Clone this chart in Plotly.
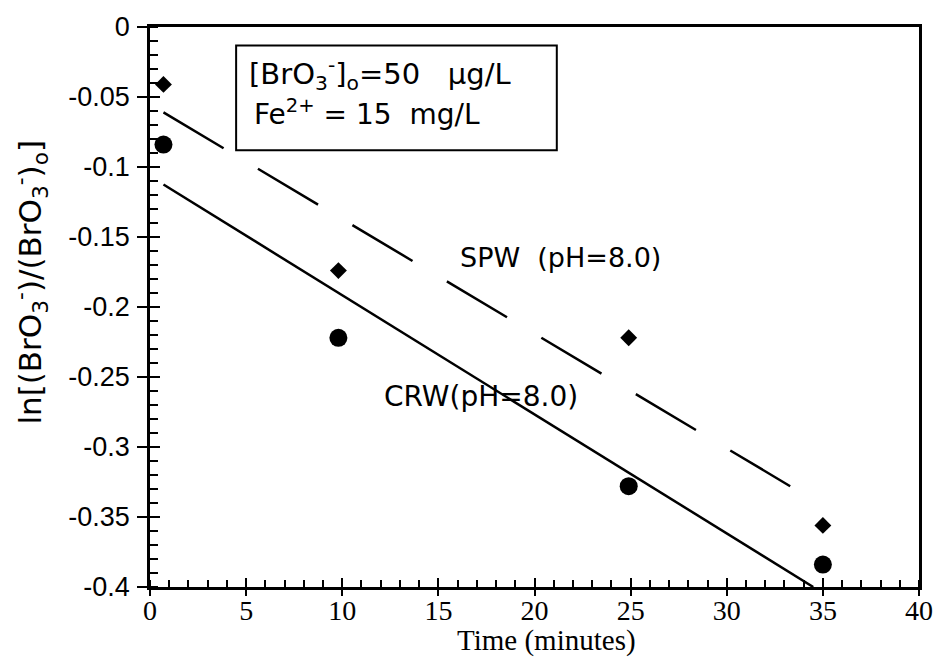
import plotly.graph_objects as go

# Data
time_pts = [0.7, 9.8, 24.9, 35.0]
spw_vals = [-0.041, -0.174, -0.222, -0.356]
crw_vals = [-0.084, -0.222, -0.328, -0.384]

spw_fit_x = [0.7, 33.3]
spw_fit_y = [-0.061, -0.328]
crw_fit_x = [0.7, 34.5]
crw_fit_y = [-0.1125, -0.400]

x_ticks = [0, 5, 10, 15, 20, 25, 30, 35, 40]
y_ticks = [0, -0.05, -0.1, -0.15, -0.2, -0.25, -0.3, -0.35, -0.4]
y_tick_text = ["0", "-0.05", "-0.1", "-0.15", "-0.2", "-0.25", "-0.3", "-0.35", "-0.4"]

fig = go.Figure()
fig.add_trace(go.Scatter(x=spw_fit_x, y=spw_fit_y, mode="lines",
                         line=dict(color="black", width=2.5, dash="70px,40px"), showlegend=False))
fig.add_trace(go.Scatter(x=crw_fit_x, y=crw_fit_y, mode="lines",
                         line=dict(color="black", width=2.5), showlegend=False))
fig.add_trace(go.Scatter(x=time_pts, y=spw_vals, mode="markers",
                         marker=dict(symbol="diamond", size=13, color="black"), showlegend=False))
fig.add_trace(go.Scatter(x=time_pts, y=crw_vals, mode="markers",
                         marker=dict(symbol="circle", size=18, color="black"), showlegend=False))
# invisible trace for the overlay axes (inner part of major ticks)
fig.add_trace(go.Scatter(x=[None], y=[None], xaxis="x2", yaxis="y2", showlegend=False,
                         hoverinfo="skip"))

lab = "DejaVu Sans"
fig.add_annotation(x=0.534, y=0.589, xref="paper", yref="paper", showarrow=False,
                   text="SPW  (pH=8.0)", font=dict(family=lab, size=27, color="black"))
fig.add_annotation(x=0.431, y=0.3076, xref="paper", yref="paper", showarrow=False,
                   text="CRW(pH=8.0)", font=dict(family=lab, size=28, color="black"))

# Legend-like box
fig.add_shape(type="rect", xref="paper", yref="paper", x0=0.112, x1=0.529, y0=0.780, y1=0.967,
              line=dict(color="black", width=2), fillcolor="white", layer="above")
fig.add_annotation(x=0.126, y=0.916, xref="paper", yref="paper", showarrow=False,
                   xanchor="left", yanchor="middle",
                   text="[BrO<sub>3</sub><sup>-</sup>]<sub>o</sub>=50   µg/L",
                   font=dict(family=lab, size=29, color="black"))
fig.add_annotation(x=0.132, y=0.847, xref="paper", yref="paper", showarrow=False,
                   xanchor="left", yanchor="middle",
                   text="Fe<sup>2+</sup> = 15  mg/L",
                   font=dict(family=lab, size=28, color="black"))

# Axis titles as annotations
fig.add_annotation(x=0.516, y=-0.095, xref="paper", yref="paper", showarrow=False,
                   text="Time (minutes)", yanchor="middle",
                   font=dict(family="Liberation Serif", size=29, color="black"))
fig.add_annotation(x=-0.155, y=0.545, xref="paper", yref="paper", showarrow=False,
                   text="ln[(BrO<sub>3</sub><sup>-</sup>)/(BrO<sub>3</sub><sup>-</sup>)<sub>o</sub>]",
                   textangle=-90, xanchor="center", yanchor="middle",
                   font=dict(family="DejaVu Sans", size=31, color="black"))

fig.update_layout(
    xaxis=dict(range=[0, 40], tickvals=x_ticks, ticks="outside", ticklen=6, tickwidth=2,
               tickcolor="black", showline=True, linecolor="black", linewidth=2.5, mirror=True,
               showgrid=False, zeroline=False,
               minor=dict(dtick=1, ticks="inside", ticklen=7, tickcolor="black", tickwidth=1.5),
               tickfont=dict(family="Liberation Serif", size=28, color="black"),
               ticklabelstandoff=-9),
    yaxis=dict(range=[-0.4, 0], tickvals=y_ticks, ticktext=y_tick_text, ticks="outside",
               ticklen=10, tickwidth=2, tickcolor="black", showline=True, linecolor="black",
               linewidth=2.5, mirror=True, showgrid=False, zeroline=False,
               minor=dict(dtick=0.01, ticks="inside", ticklen=8, tickcolor="black", tickwidth=1.5),
               tickfont=dict(family="Liberation Sans", size=27, color="black"),
               ticklabelstandoff=2),
    xaxis2=dict(range=[0, 40], overlaying="x", anchor="y", side="bottom", tickvals=x_ticks,
                ticks="inside", ticklen=9, tickwidth=2, tickcolor="black", showticklabels=False,
                showline=False, showgrid=False, zeroline=False),
    yaxis2=dict(range=[-0.4, 0], overlaying="y", anchor="x", side="left", tickvals=y_ticks,
                ticks="inside", ticklen=10, tickwidth=2, tickcolor="black", showticklabels=False,
                showline=False, showgrid=False, zeroline=False),
    width=945, height=665, plot_bgcolor="white", paper_bgcolor="white",
    margin=dict(l=150, r=18, t=18, b=78))
fig.write_html("out.html")
